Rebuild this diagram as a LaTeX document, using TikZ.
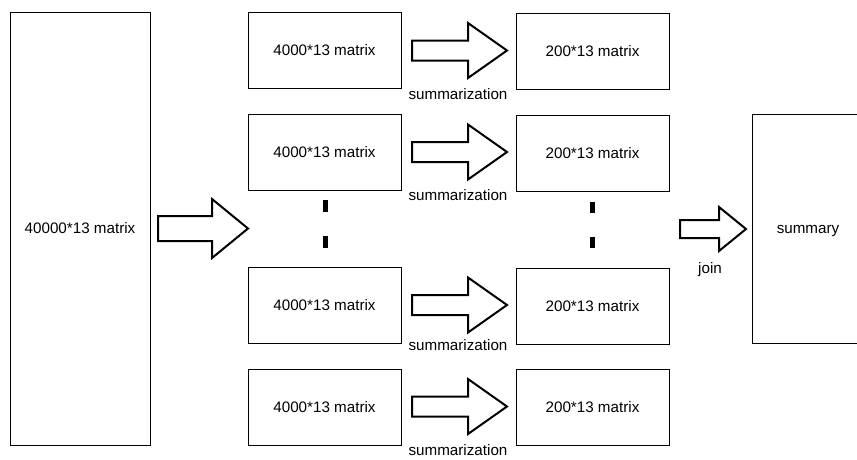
\documentclass[tikz,border=0pt]{standalone}
\usepackage{fontspec}
\setmainfont{Liberation Sans}
\begin{document}
\begin{tikzpicture}[x=1pt,y=-1pt,
  box/.style={draw=black,line width=1pt,inner sep=0pt,font=\fontsize{15.2}{18}\selectfont,text height=12pt,text depth=1.2pt},
  lbl/.style={inner sep=0pt,font=\fontsize{15.2}{18}\selectfont,text height=12pt,text depth=1.2pt},
  barrow/.style={draw=black,line width=2pt,fill=white,line join=miter},
  dot/.style={fill=black}]
\clip (0,0) rectangle (857,459);
\useasboundingbox (0,0) rectangle (857,459);
% boxes
\node[box,minimum width=140pt,minimum height=433pt] (big) at (80,228.5) {40000*13 matrix};
\foreach \i/\y in {1/50,2/152,3/305,4/407}{
  \node[box,minimum width=153pt,minimum height=76pt] (L\i) at (324.5,\y) {4000*13 matrix};
}
\foreach \i/\y in {1/51,2/153,3/306,4/407.5}{
  \node[box,minimum width=153pt,minimum height=76pt] (R\i) at (592.5,\y) {200*13 matrix};
}
\node[box,minimum width=112pt,minimum height=229pt] (sum) at (808,228.5) {summary};
% block arrows
\newcommand{\blockarrow}[6]{%
  \draw[barrow] (#1,#4-#5) -- (#2,#4-#5) -- (#2,#4-#6) -- (#3,#4) -- (#2,#4+#6) -- (#2,#4+#5) -- (#1,#4+#5) -- cycle;}
\blockarrow{158}{212}{248}{228.5}{12.5}{29.5}
\blockarrow{412}{468}{507}{50.5}{10}{27.5}
\blockarrow{412}{468}{507}{152}{10}{27.5}
\blockarrow{412}{468}{507}{305}{10}{27.5}
\blockarrow{412}{468}{507}{406.5}{10}{27.5}
\blockarrow{680}{719}{746}{229}{9}{22}
% labels
\foreach \i/\y in {1/93.6,2/195.3,3/345.3,4/449.6}{
  \node[lbl] (s\i) at (458,\y) {summarization};
}
\node[lbl] (join) at (710,267.9) {join};
% dots
\fill[dot] (322.5,200) rectangle (327.5,212);
\fill[dot] (322.5,236) rectangle (327.5,248);
\fill[dot] (589.5,202) rectangle (594.5,213);
\fill[dot] (589.5,237) rectangle (594.5,248);
\end{tikzpicture}
\end{document}
